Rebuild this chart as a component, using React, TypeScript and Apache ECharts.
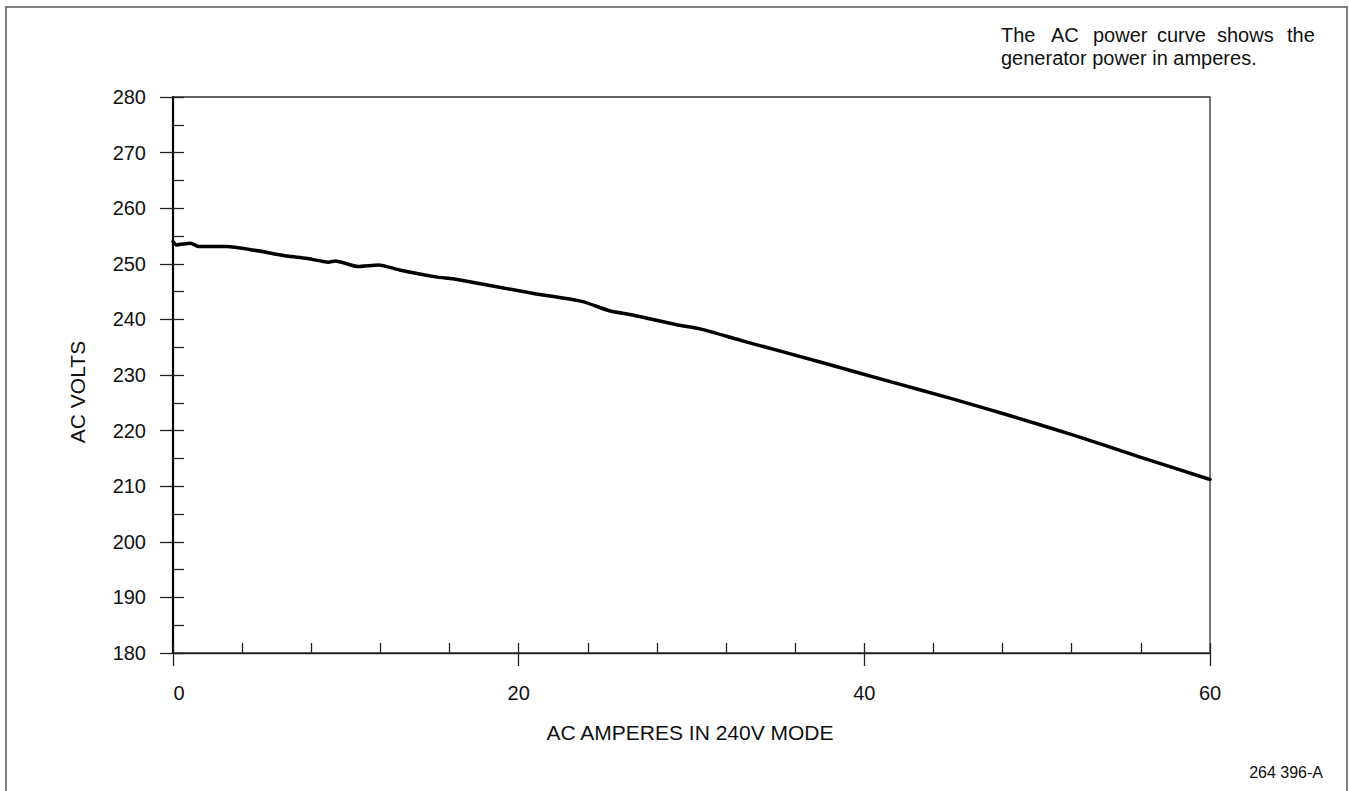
import React, { useEffect, useRef } from "react";
import * as echarts from "echarts";

const amps = [0, 0.2, 1.0, 1.5, 3.1, 4.6, 6.6, 7.7, 9.0, 9.4, 10.7, 11.9, 13.1, 15.3, 16.2, 20.8, 23.7, 25.3, 26.6, 29.2, 30.5, 33.0, 37.6, 41.5, 45.0, 48.3, 52.1, 56.0, 60];
const volts = [254.0, 253.4, 253.7, 253.1, 253.1, 252.5, 251.4, 251.0, 250.3, 250.5, 249.5, 249.8, 248.9, 247.6, 247.3, 244.7, 243.2, 241.5, 240.8, 239.0, 238.3, 236.1, 232.2, 228.8, 225.8, 222.8, 219.2, 215.2, 211.2];

const xName = "AC AMPERES IN 240V MODE";
const yName = "AC VOLTS";
const noteLine1 = ["The", "AC", "power", "curve", "shows", "the"];
const noteLine2 = "generator power in amperes.";
const figId = "264 396-A";

const FONT = "'Liberation Sans', Arial, Helvetica, sans-serif";

export default function App() {
  const ref = useRef<HTMLDivElement>(null);
  useEffect(() => {
    if (!ref.current) return;
    const chart = echarts.init(ref.current, undefined, { renderer: "svg" });
    const data = amps.map((a, i) => [a, volts[i]]);
    const wordX = [1001, 1051, 1093, 1157, 1217, 1287];
    const graphic: any[] = [
      {
        type: "rect",
        shape: { x: 6, y: 7, width: 1341, height: 800 },
        style: { fill: "none", stroke: "#555", lineWidth: 1.5 },
        silent: true,
      },
      {
        type: "text",
        x: 77,
        y: 392,
        rotation: Math.PI / 2,
        style: { text: yName, fontSize: 21, fontFamily: FONT, fill: "#111", align: "center", verticalAlign: "middle" },
      },
      {
        type: "text",
        x: 690,
        y: 732,
        style: { text: xName, fontSize: 21, fontFamily: FONT, fill: "#111", align: "center", verticalAlign: "middle" },
      },
      ...noteLine1.map((w, i) => ({
        type: "text",
        x: wordX[i],
        y: 35,
        style: { text: w, fontSize: 20, fontFamily: FONT, fill: "#111", align: "left", verticalAlign: "middle" },
      })),
      {
        type: "text",
        x: 1001,
        y: 58,
        style: { text: noteLine2, fontSize: 20, fontFamily: FONT, fill: "#111", align: "left", verticalAlign: "middle" },
      },
      {
        type: "text",
        x: 1323,
        y: 772,
        style: { text: figId, fontSize: 16, fontFamily: FONT, fill: "#111", align: "right", verticalAlign: "middle" },
      },
    ];
    chart.setOption({
      animation: false,
      backgroundColor: "#fff",
      grid: {
        left: 173,
        right: 139,
        top: 97,
        bottom: 138,
        show: true,
        borderColor: "#333",
        borderWidth: 1.3,
        backgroundColor: "transparent",
      },
      xAxis: [
        {
          type: "value",
          min: 0,
          max: 60,
          interval: 20,
          position: "bottom",
          axisLine: { show: true, lineStyle: { color: "#222", width: 1.3 } },
          axisTick: { show: true, length: 13, lineStyle: { color: "#222", width: 1.3 } },
          axisLabel: {
            fontSize: 20,
            fontFamily: FONT,
            color: "#111",
            margin: 30,
            formatter: (v: number) => (v === 0 ? "{z|0}" : String(v)),
            rich: { z: { fontSize: 20, fontFamily: FONT, color: "#111", padding: [0, 0, 0, 12] } },
          },
          splitLine: { show: false },
        },
        {
          type: "value",
          min: 0,
          max: 60,
          interval: 4,
          position: "bottom",
          offset: 0,
          axisLine: { show: false },
          axisTick: { show: true, inside: true, length: 10, lineStyle: { color: "#222", width: 1.3 } },
          axisLabel: { show: false },
          splitLine: { show: false },
        },
      ],
      yAxis: [
        {
          type: "value",
          min: 180,
          max: 280,
          interval: 10,
          position: "left",
          axisLine: { show: true, lineStyle: { color: "#000", width: 2.2 } },
          axisTick: { show: true, length: 13, lineStyle: { color: "#222", width: 1.3 } },
          axisLabel: { fontSize: 20, fontFamily: FONT, color: "#111", margin: 27 },
          splitLine: { show: false },
        },
        {
          type: "value",
          min: 180,
          max: 280,
          interval: 5,
          position: "left",
          offset: 0,
          axisLine: { show: false },
          axisTick: { show: true, inside: true, length: 11, lineStyle: { color: "#222", width: 1.3 } },
          axisLabel: { show: false },
          splitLine: { show: false },
        },
      ],
      series: [
        {
          type: "line",
          xAxisIndex: 0,
          yAxisIndex: 0,
          data,
          showSymbol: false,
          smooth: 0.2,
          lineStyle: { color: "#000", width: 3.5, join: "round", cap: "round" },
          z: 5,
        },
      ],
      graphic,
    });
    return () => chart.dispose();
  }, []);
  return (
    <div
      ref={ref}
      style={{ position: "fixed", left: 0, top: 0, width: 1349, height: 791, background: "#fff" }}
    />
  );
}
